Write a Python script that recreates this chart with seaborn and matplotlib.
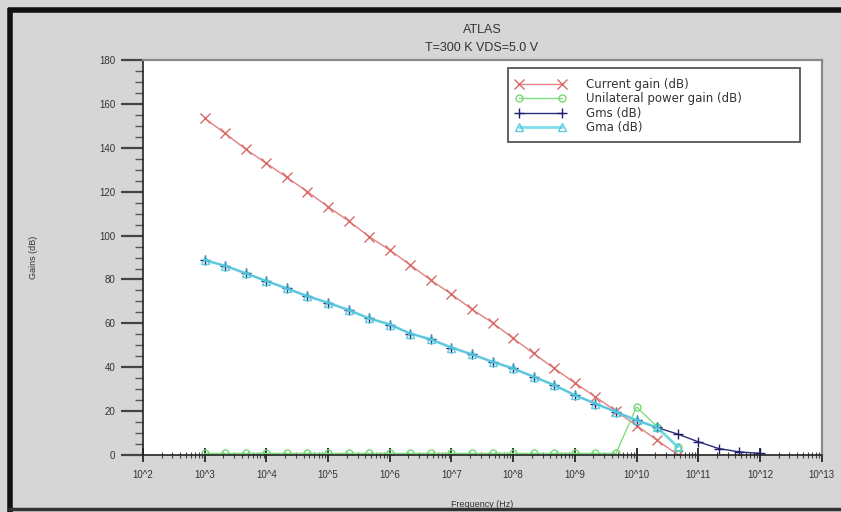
import math
import matplotlib
matplotlib.use("Agg")
import matplotlib.pyplot as plt
import matplotlib.ticker as mticker
from matplotlib.patches import Rectangle
import seaborn as sns
import pandas as pd

sns.set_theme(style="white")
plt.rcParams["font.family"] = ["Liberation Sans", "DejaVu Sans"]

# Frequency sweep (Hz), three points per decade
freq_hz = [1.0e3, 2.15e3, 4.64e3, 1.0e4, 2.15e4, 4.64e4, 1.0e5, 2.15e5, 4.64e5,
           1.0e6, 2.15e6, 4.64e6, 1.0e7, 2.15e7, 4.64e7, 1.0e8, 2.15e8, 4.64e8,
           1.0e9, 2.15e9, 4.64e9, 1.0e10, 2.15e10, 4.64e10, 1.0e11, 2.15e11,
           4.64e11, 1.0e12]

current_gain = [153.4, 146.5, 139.3, 132.9, 126.5, 120.0, 113.1, 106.7, 99.5,
                93.4, 86.6, 79.7, 73.3, 66.4, 60.3, 53.2, 46.3, 39.5,
                32.9, 26.6, 20.0, 13.5, 6.8, 0.3]

unilateral_gain = [0.8, 0.8, 0.8, 0.8, 0.8, 0.8, 0.8, 0.8, 0.8,
                   0.8, 0.8, 0.8, 0.8, 0.8, 0.8, 0.8, 0.8, 0.8,
                   0.8, 0.8, 0.8, 22.0, 13.0, 3.8]

gms = [88.8, 86.2, 82.8, 79.3, 75.9, 72.4, 69.4, 66.1, 62.3,
       59.5, 55.4, 52.7, 49.0, 45.9, 42.5, 39.5, 35.7, 31.9,
       27.3, 23.5, 19.7, 15.9, 12.6, 9.6, 6.1, 3.0, 1.5, 0.8]

gma = [88.8, 86.2, 82.8, 79.3, 75.9, 72.4, 69.4, 66.1, 62.3,
       59.5, 55.4, 52.7, 49.0, 45.9, 42.5, 39.5, 35.7, 31.9,
       27.3, 23.5, 19.7, 15.9, 12.6, 3.8]

# name, values, line colour, marker, marker colour, marker size, line width, alpha
series = [
    ("Current gain (dB)", current_gain, "#e48080", "x", "#d86a6a", 7, 1.0, 1.0),
    ("Unilateral power gain (dB)", unilateral_gain, "#7fe07f", "o", "#74d874", 5, 1.0, 1.0),
    ("Gms (dB)", gms, "#2c2c7c", "+", "#1e1e6a", 7, 1.0, 1.0),
    ("Gma (dB)", gma, "#66d8ea", "^", "#45c4d8", 5.5, 2.0, 0.85),
]

bg = "#d6d6d6"
fig = plt.figure(figsize=(8.41, 5.12), dpi=100, facecolor=bg)
ax = fig.add_axes([0.170, 0.111, 0.807, 0.772])
ax.set_facecolor("white")

for name, vals, col, mk, mcol, ms, lw, alpha in series:
    df = pd.DataFrame({"f": freq_hz[:len(vals)], "g": vals})
    filled = mk in ("x", "+")
    sns.lineplot(data=df, x="f", y="g", ax=ax, color=col, lw=lw, alpha=alpha,
                 marker=mk, markersize=ms,
                 markerfacecolor=mcol if filled else "none",
                 markeredgecolor=mcol, markeredgewidth=1.0,
                 label=name, sort=False)

ax.set_xscale("log")
ax.set_xlim(1e2, 1e13)
ax.set_ylim(0, 180)

ax.xaxis.set_major_locator(mticker.LogLocator(base=10, numticks=20))
ax.xaxis.set_minor_locator(mticker.LogLocator(base=10, subs=range(2, 10), numticks=200))
ax.xaxis.set_major_formatter(mticker.FuncFormatter(lambda v, p: "10^%d" % round(math.log10(v))))
ax.xaxis.set_minor_formatter(mticker.NullFormatter())
ax.yaxis.set_major_locator(mticker.MultipleLocator(20))
ax.yaxis.set_minor_locator(mticker.MultipleLocator(5))

ax.tick_params(axis="y", which="major", direction="out", length=16, width=1.6,
               color="#444444", labelsize=7, labelcolor="#333333", pad=4, left=True)
ax.tick_params(axis="y", which="minor", direction="out", length=6, width=1.0,
               color="#555555", left=True)
ax.tick_params(axis="x", which="major", direction="inout", length=10, width=1.4,
               color="#333333", labelsize=7, labelcolor="#333333", pad=6, bottom=True)
ax.tick_params(axis="x", which="minor", direction="inout", length=5, width=0.8,
               color="#444444", bottom=True)

for side in ("left", "bottom"):
    ax.spines[side].set_color("#222222")
    ax.spines[side].set_linewidth(1.2)
for side in ("top", "right"):
    ax.spines[side].set_color("#8a8a8a")
    ax.spines[side].set_linewidth(1.6)

ax.set_xlabel("Frequency (Hz)", fontsize=6.5, color="#333333", labelpad=14)
ax.set_ylabel("Gains (dB)", fontsize=6.5, color="#333333", labelpad=44)

fig.text(0.573, 0.941, "ATLAS", ha="center", va="center", fontsize=9, color="#333333")
fig.text(0.573, 0.906, "T=300 K VDS=5.0 V", ha="center", va="center", fontsize=9, color="#333333")

# Legend entries without their own frame; the box is drawn separately
leg = ax.legend(loc="upper left", bbox_to_anchor=(510 / 841, 1 - 72 / 512),
                bbox_transform=fig.transFigure,
                prop={"family": "DejaVu Sans", "size": 8.5},
                frameon=False, numpoints=2, handlelength=4.2, borderpad=0.0,
                labelspacing=0.12, handletextpad=1.7)
for t in leg.get_texts():
    t.set_color("#333333")
fig.add_artist(Rectangle((508 / 841, 1 - 142 / 512), 292 / 841, 74 / 512,
                         transform=fig.transFigure, fill=False,
                         edgecolor="#555555", lw=1.3, zorder=5))

# Dark frame along the left, top and bottom edges of the figure
fig.add_artist(plt.Line2D([0.012, 0.012], [0, 0.985], transform=fig.transFigure,
                          color="#111111", lw=4, solid_capstyle="butt"))
fig.add_artist(plt.Line2D([0.010, 1.0], [0.981, 0.981], transform=fig.transFigure,
                          color="#111111", lw=4, solid_capstyle="butt"))
fig.add_artist(plt.Line2D([0.010, 1.0], [0.006, 0.006], transform=fig.transFigure,
                          color="#333333", lw=2.5, solid_capstyle="butt"))

fig.savefig("out.png", dpi=100, facecolor=bg)
